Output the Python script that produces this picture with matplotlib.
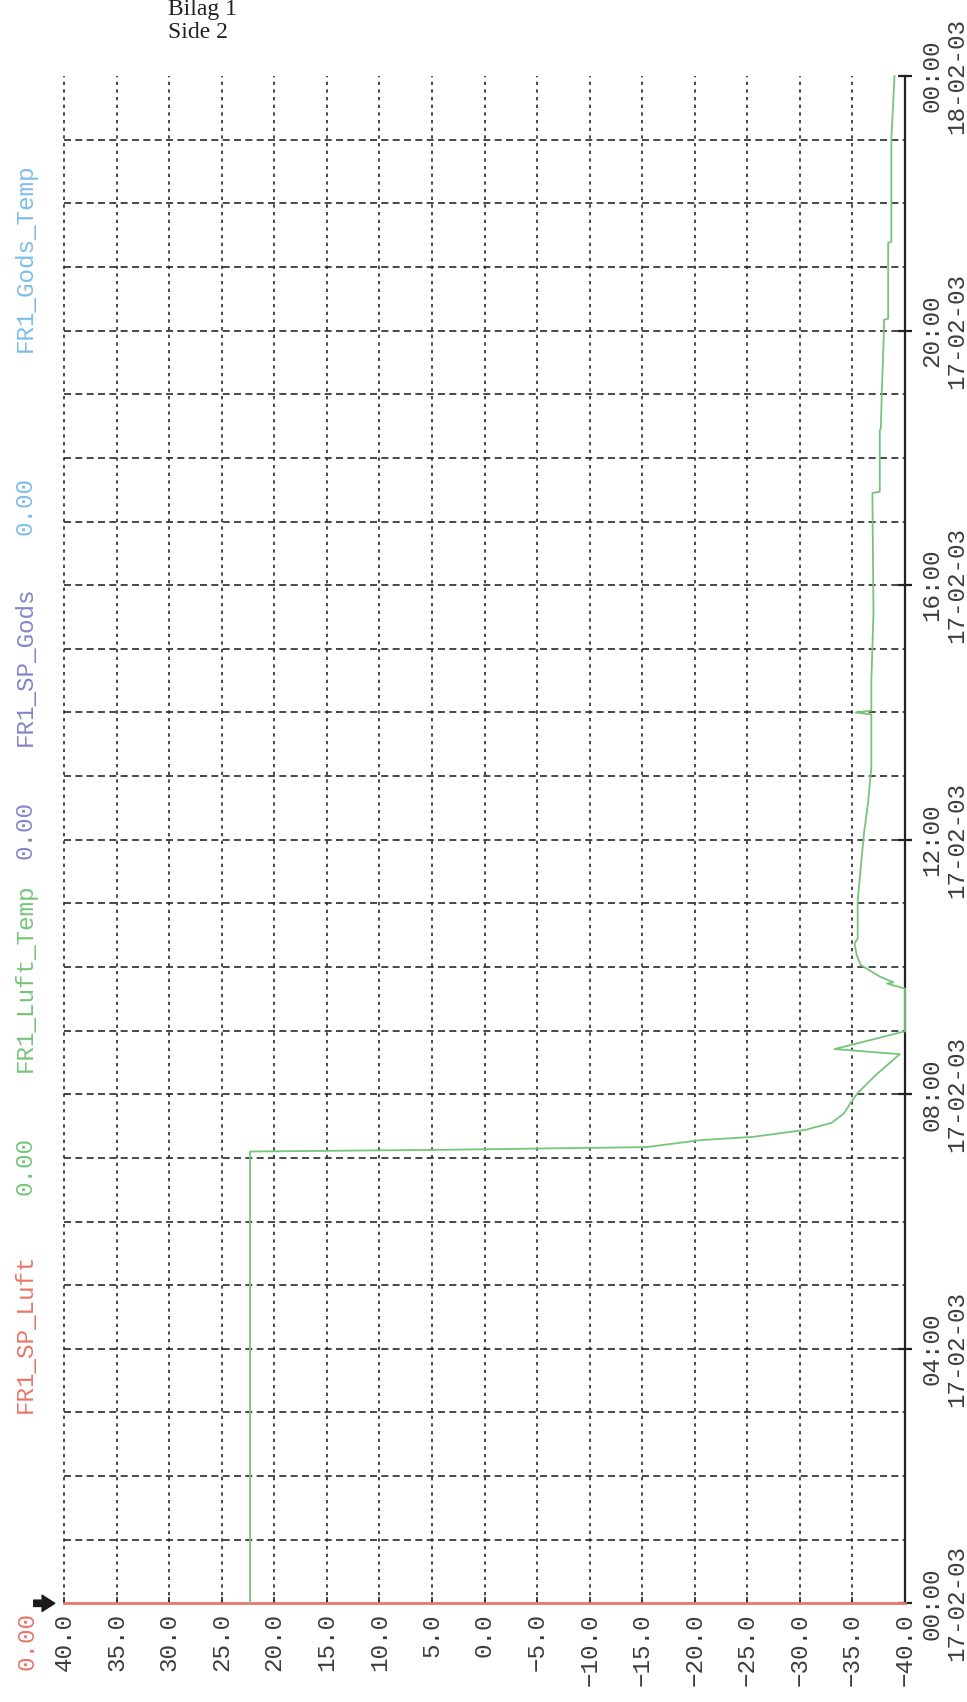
import matplotlib
matplotlib.use("Agg")
import matplotlib.pyplot as plt
import numpy as np

# ---------------- data ----------------
hours = [0.00, 7.10, 7.11, 7.13, 7.17, 7.28, 7.33, 7.44, 7.55, 7.70, 7.86, 8.02,
         8.30, 8.63, 8.71, 8.99, 9.66, 9.74, 9.76, 9.85, 10.03, 10.19, 10.37,
         10.45, 11.05, 11.58, 12.10, 12.60, 13.15, 13.97, 14.00, 14.03, 14.50,
         15.56, 17.45, 17.47, 18.44, 18.46, 19.07, 20.00, 20.17, 20.19, 21.38,
         21.40, 23.00, 24.00]
luft_temp = [22.3, 22.3, 15.5, 2.5, -15.4, -20.6, -25.5, -30.5, -33.0, -34.2,
             -34.8, -35.5, -37.2, -39.5, -33.3, -40.0, -40.0, -38.3, -38.9,
             -37.6, -35.8, -35.4, -35.2, -35.5, -35.5, -35.8, -36.1, -36.5,
             -36.8, -36.8, -35.3, -36.8, -36.8, -37.0, -36.9, -37.6, -37.6,
             -37.7, -37.8, -38.0, -38.0, -38.4, -38.4, -38.7, -38.7, -39.0]

temp_ticks = [40, 35, 30, 25, 20, 15, 10, 5, 0, -5, -10, -15, -20, -25, -30, -35, -40]
temp_labels = ["40.0", "35.0", "30.0", "25.0", "20.0", "15.0", "10.0", "5.0", "0.0",
               "\u22125.0", "\u221210.0", "\u221215.0", "\u221220.0", "\u221225.0",
               "\u221230.0", "\u221235.0", "\u221240.0"]
time_ticks = [0, 4, 8, 12, 16, 20, 24]
time_labels = ["00:00\n17-02-03", "04:00\n17-02-03", "08:00\n17-02-03",
               "12:00\n17-02-03", "16:00\n17-02-03", "20:00\n17-02-03",
               "00:00\n18-02-03"]
hour_grid = list(range(1, 24))

legend_texts = ["0.00", "FR1_SP_Luft", "0.00", "FR1_Luft_Temp", "0.00",
                "FR1_SP_Gods", "0.00", "FR1_Gods_Temp"]

# ---------------- style ----------------
RED = "#E8766A"
GREEN = "#76C57A"
PURPLE = "#8286C8"
LBLUE = "#7DBCEA"
GRID = "#2a2a2a"
TXT = "#3c3c3c"
MONO = ["Liberation Mono", "DejaVu Sans Mono"]

legend_colors = [RED, RED, GREEN, GREEN, PURPLE, PURPLE, LBLUE, LBLUE]
legend_ypx = [None, 1333, 1166, 978, 830, 666, 506, 258]

W, H = 967, 1702
fig = plt.figure(figsize=(W / 100, H / 100), dpi=100)
fig.patch.set_facecolor("white")

left_px, right_px, bottom_px, top_px = 64, 905, 1603.3, 76.2
ax = fig.add_axes([left_px / W, 1 - bottom_px / H,
                   (right_px - left_px) / W, (bottom_px - top_px) / H])
ax.set_facecolor("white")
ax.set_xlim(40, -40)
ax.set_ylim(0, 24)

# grid
ax.hlines(hour_grid, 40, -40, colors=GRID, linestyles=(0, (4.2, 2.6)), lw=1.2, zorder=1)
ax.vlines(temp_ticks[:-1], 0, 24, colors=GRID, linestyles=(0, (2.0, 2.6)), lw=1.2,
          zorder=1, clip_on=False)

# series
ax.plot(luft_temp, hours, color=GREEN, lw=1.3, zorder=4, clip_on=False)

# spines
for s in ("left", "top"):
    ax.spines[s].set_visible(False)
ax.spines["bottom"].set_color(RED)
ax.spines["bottom"].set_linewidth(2.0)
ax.spines["bottom"].set_zorder(3)
ax.spines["right"].set_color("#222222")
ax.spines["right"].set_linewidth(1.6)

# x ticks (temperature)
ax.set_xticks(temp_ticks)
ax.set_xticklabels(temp_labels, rotation=90, family=MONO, fontsize=17.5, color=TXT)
ax.tick_params(axis="x", length=4, width=1.2, color=GRID, direction="in", pad=7)
for lab in ax.get_xticklabels():
    lab.set_va("top")
    lab.set_ha("center")

# y ticks (time) on the right
ax.yaxis.tick_right()
ax.set_yticks(time_ticks)
ax.set_yticklabels(time_labels, rotation=90, family=MONO, fontsize=17.5, color=TXT)
ax.tick_params(axis="y", length=10, width=1.6, color="#222222", direction="inout", pad=6)
for lab in ax.get_yticklabels():
    lab.set_va("center")
    lab.set_ha("left")
    lab.set_multialignment("center")
    lab.set_linespacing(1.1)

# arrow at the start of the red axis
ax.annotate("", xy=(-0.011, 0.0), xytext=(-0.036, 0.0), xycoords="axes fraction",
            textcoords="axes fraction",
            arrowprops=dict(arrowstyle="simple,head_width=0.9,head_length=0.7,tail_width=0.35",
                            color="#1a1a1a", shrinkA=0, shrinkB=0, mutation_scale=13),
            annotation_clip=False)

# legend column (rotated texts on the left)
for txt, col, ypx in zip(legend_texts, legend_colors, legend_ypx):
    if ypx is None:
        fig.text(27 / W, 1 - 1612 / H, txt, rotation=90, family=MONO, fontsize=17.5,
                 color=col, ha="center", va="top")
    else:
        fig.text(25 / W, 1 - ypx / H, txt, rotation=90, family=MONO, fontsize=17.5,
                 color=col, ha="center", va="center")

# header
fig.text(168 / W, 1 - 15 / H, "Bilag 1", family=["Liberation Serif", "DejaVu Serif"],
         fontsize=17, color="#222222", ha="left", va="baseline")
fig.text(168 / W, 1 - 38 / H, "Side 2", family=["Liberation Serif", "DejaVu Serif"],
         fontsize=17, color="#222222", ha="left", va="baseline")

fig.savefig("out.png", dpi=100, facecolor="white")
